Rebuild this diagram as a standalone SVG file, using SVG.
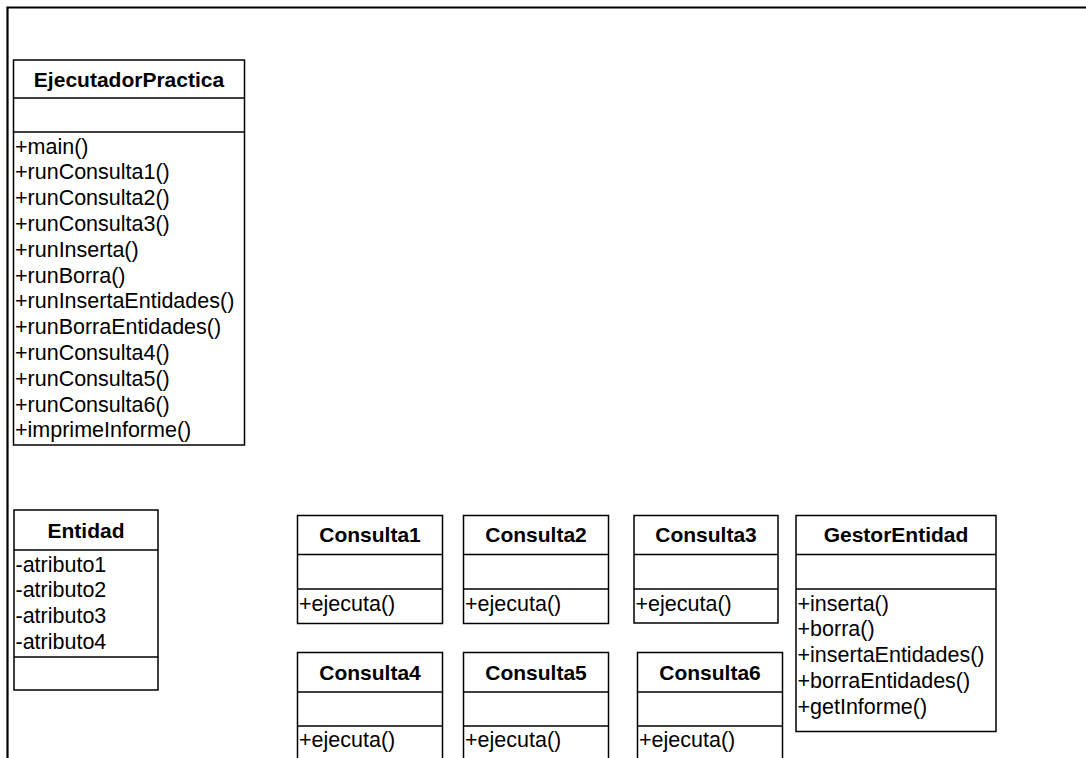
<svg xmlns="http://www.w3.org/2000/svg" width="1086" height="758" viewBox="0 0 1086 758">
<style>
.box{fill:#fff;stroke:#000;stroke-width:1.5}
.sep{stroke:#000;stroke-width:1.5}
.frame{stroke:#000;stroke-width:2.2;fill:none}
.t{font-family:"Liberation Sans",Arial,sans-serif;font-size:21.5px;fill:#000}
.h{font-family:"Liberation Sans",Arial,sans-serif;font-size:21px;font-weight:bold;fill:#000;text-anchor:middle}
</style>
<rect width="1086" height="758" fill="#fff"/>
<g id="frame">
<path class="frame" d="M7.5 758 V7.5 H1086"/>
</g>
<g id="connectors"></g>
<g id="EjecutadorPractica">
<rect class="box" x="13.5" y="60" width="231" height="385"/>
<line class="sep" x1="13.5" y1="98" x2="244.5" y2="98"/>
<line class="sep" x1="13.5" y1="132" x2="244.5" y2="132"/>
<text class="h" x="129" y="86.5">EjecutadorPractica</text>
<text class="t" x="15">
<tspan x="15" y="153.5">+main()</tspan>
<tspan x="15" y="179.3">+runConsulta1()</tspan>
<tspan x="15" y="205.1">+runConsulta2()</tspan>
<tspan x="15" y="230.9">+runConsulta3()</tspan>
<tspan x="15" y="256.7">+runInserta()</tspan>
<tspan x="15" y="282.5">+runBorra()</tspan>
<tspan x="15" y="308.3">+runInsertaEntidades()</tspan>
<tspan x="15" y="334.1">+runBorraEntidades()</tspan>
<tspan x="15" y="359.9">+runConsulta4()</tspan>
<tspan x="15" y="385.7">+runConsulta5()</tspan>
<tspan x="15" y="411.5">+runConsulta6()</tspan>
<tspan x="15" y="437.3">+imprimeInforme()</tspan>
</text>
</g>
<g id="Entidad">
<rect class="box" x="14" y="510" width="144" height="180"/>
<line class="sep" x1="14" y1="550" x2="158" y2="550"/>
<line class="sep" x1="14" y1="657" x2="158" y2="657"/>
<text class="h" x="86" y="537.5">Entidad</text>
<text class="t">
<tspan x="15.5" y="571.5">-atributo1</tspan>
<tspan x="15.5" y="597.3">-atributo2</tspan>
<tspan x="15.5" y="623.1">-atributo3</tspan>
<tspan x="15.5" y="648.9">-atributo4</tspan>
</text>
</g>
<g id="Consulta1">
<rect class="box" x="297.5" y="515.5" width="145" height="108"/>
<line class="sep" x1="297.5" y1="554.5" x2="442.5" y2="554.5"/>
<line class="sep" x1="297.5" y1="589" x2="442.5" y2="589"/>
<text class="h" x="370" y="542">Consulta1</text>
<text class="t" x="299" y="610.5">+ejecuta()</text>
</g>
<g id="Consulta2">
<rect class="box" x="463.5" y="515.5" width="145" height="108"/>
<line class="sep" x1="463.5" y1="554.5" x2="608.5" y2="554.5"/>
<line class="sep" x1="463.5" y1="589" x2="608.5" y2="589"/>
<text class="h" x="536" y="542">Consulta2</text>
<text class="t" x="465" y="610.5">+ejecuta()</text>
</g>
<g id="Consulta3">
<rect class="box" x="634" y="515.5" width="144" height="107.5"/>
<line class="sep" x1="634" y1="554.5" x2="778" y2="554.5"/>
<line class="sep" x1="634" y1="589" x2="778" y2="589"/>
<text class="h" x="706" y="542">Consulta3</text>
<text class="t" x="635.5" y="610.5">+ejecuta()</text>
</g>
<g id="GestorEntidad">
<rect class="box" x="796" y="515.5" width="200" height="216"/>
<line class="sep" x1="796" y1="554.5" x2="996" y2="554.5"/>
<line class="sep" x1="796" y1="589" x2="996" y2="589"/>
<text class="h" x="896" y="542">GestorEntidad</text>
<text class="t">
<tspan x="797.5" y="610.5">+inserta()</tspan>
<tspan x="797.5" y="636.3">+borra()</tspan>
<tspan x="797.5" y="662.1">+insertaEntidades()</tspan>
<tspan x="797.5" y="687.9">+borraEntidades()</tspan>
<tspan x="797.5" y="713.7">+getInforme()</tspan>
</text>
</g>
<g id="Consulta4">
<rect class="box" x="297.5" y="652.5" width="145" height="110"/>
<line class="sep" x1="297.5" y1="692" x2="442.5" y2="692"/>
<line class="sep" x1="297.5" y1="726" x2="442.5" y2="726"/>
<text class="h" x="370" y="679.5">Consulta4</text>
<text class="t" x="299" y="747">+ejecuta()</text>
</g>
<g id="Consulta5">
<rect class="box" x="463.5" y="652.5" width="145" height="110"/>
<line class="sep" x1="463.5" y1="692" x2="608.5" y2="692"/>
<line class="sep" x1="463.5" y1="726" x2="608.5" y2="726"/>
<text class="h" x="536" y="679.5">Consulta5</text>
<text class="t" x="465" y="747">+ejecuta()</text>
</g>
<g id="Consulta6">
<rect class="box" x="637.5" y="652.5" width="145" height="110"/>
<line class="sep" x1="637.5" y1="692" x2="782.5" y2="692"/>
<line class="sep" x1="637.5" y1="726" x2="782.5" y2="726"/>
<text class="h" x="710" y="679.5">Consulta6</text>
<text class="t" x="639" y="747">+ejecuta()</text>
</g>
</svg>
